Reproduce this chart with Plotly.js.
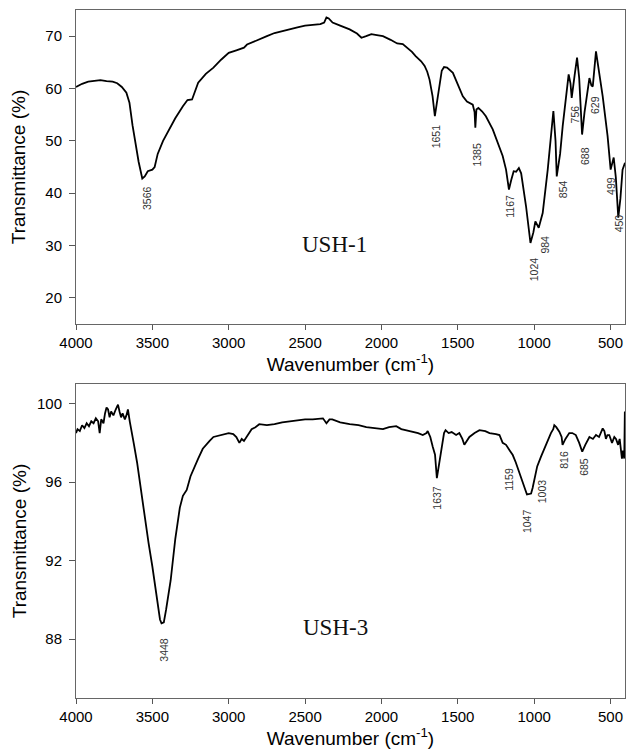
<!DOCTYPE html>
<html>
<head>
<meta charset="utf-8">
<script src="https://cdn.plot.ly/plotly-3.0.1.min.js"></script>
<style>html,body{margin:0;padding:0;background:#fff;}#chart{width:626px;height:749px;}</style>
</head>
<body>
<div id="chart"></div>
<script>
// USH-1 spectrum (wavenumber, transmittance)
var ush1Wn = [4000,3960,3920,3880,3840,3800,3760,3730,3700,3670,3650,3630,3610,3590,3566,3550,3530,3500,3485,3465,3430,3400,3350,3300,3270,3240,3220,3200,3150,3100,3050,3000,2950,2900,2880,2850,2800,2750,2700,2650,2600,2550,2500,2450,2400,2375,2360,2345,2320,2270,2208,2160,2131,2100,2066,2030,1990,1940,1897,1860,1842,1800,1776,1740,1717,1700,1685,1665,1650,1635,1619,1605,1590,1570,1532,1500,1467,1440,1402,1390,1385,1378,1365,1340,1316,1271,1227,1206,1184,1165,1150,1134,1118,1100,1085,1053,1024,1005,992,980,970,944,911,874,860,852,830,813,790,774,762,754,735,719,705,686,670,661,638,625,616,595,575,551,519,499,479,465,449,435,421,405];
var ush1T = [60.3,60.9,61.3,61.5,61.6,61.4,61.3,61.0,60.3,59.2,57.3,53.0,49.0,46.0,42.8,43.2,44.2,44.5,45.0,47.5,50.0,51.6,54.3,56.6,57.8,57.9,59.5,61.1,62.8,64.0,65.5,66.8,67.3,67.8,68.4,68.8,69.4,70.0,70.6,71.0,71.3,71.7,72.0,72.2,72.3,72.6,73.6,73.4,72.6,72.0,71.3,70.5,69.7,70.0,70.4,70.2,70.0,69.3,68.6,68.5,68.1,67.0,66.2,65.2,64.3,63.2,61.7,58.5,54.7,57.5,60.4,63.4,64.1,64.0,63.0,60.8,58.5,57.5,56.9,55.5,52.5,56.0,56.3,55.6,54.7,52.2,49.0,47.1,44.5,40.7,42.5,44.2,44.1,44.8,43.8,37.5,30.5,32.5,34.6,34.0,33.4,36.2,44.5,55.7,50.0,43.2,47.5,52.8,58.5,62.7,61.0,58.2,62.5,65.9,62.0,51.2,55.5,57.3,62.0,60.6,60.4,67.1,63.5,58.5,50.9,44.5,46.8,43.0,35.3,39.0,44.5,45.8];

// USH-3 spectrum
var ush3Wn = [4000,3990,3975,3960,3945,3930,3915,3900,3885,3870,3855,3845,3835,3820,3810,3800,3790,3780,3770,3755,3740,3725,3715,3705,3695,3680,3670,3660,3648,3640,3620,3600,3575,3550,3525,3500,3470,3450,3440,3425,3410,3400,3380,3350,3320,3300,3275,3250,3225,3200,3170,3150,3125,3100,3050,3000,2970,2950,2930,2915,2900,2875,2850,2825,2800,2750,2700,2650,2600,2550,2500,2450,2400,2383,2360,2340,2322,2270,2208,2150,2099,2050,1990,1950,1903,1870,1816,1760,1729,1705,1697,1680,1664,1649,1637,1620,1605,1590,1580,1560,1540,1511,1490,1470,1457,1440,1424,1390,1358,1320,1292,1250,1227,1206,1184,1159,1140,1120,1096,1075,1047,1030,1020,1010,998,980,955,930,911,890,875,868,855,835,820,814,795,770,750,727,705,685,665,638,615,595,575,551,540,530,520,508,490,475,464,450,440,432,425,418,410,406,403];
var ush3T = [98.5,98.7,98.6,98.9,98.75,99.0,98.85,99.1,99.0,99.25,99.1,98.5,99.2,99.0,99.5,99.8,99.7,99.3,99.6,99.4,99.7,99.95,99.6,99.3,99.5,99.2,99.4,99.7,99.1,98.8,97.9,97.0,95.6,94.1,92.9,91.7,90.2,89.0,88.8,88.85,89.5,90.0,91.0,93.1,94.7,95.3,95.6,96.3,96.8,97.2,97.7,97.9,98.1,98.3,98.4,98.5,98.45,98.3,98.0,98.2,98.1,98.4,98.7,98.8,98.95,98.9,98.95,99.05,99.1,99.15,99.2,99.2,99.25,99.25,99.0,99.2,99.2,99.05,98.95,98.9,98.8,98.75,98.7,98.8,98.85,98.7,98.6,98.5,98.4,98.5,98.6,98.3,97.8,97.4,96.2,97.0,97.8,98.5,98.65,98.5,98.55,98.4,98.5,98.2,97.9,98.1,98.3,98.5,98.65,98.6,98.5,98.45,98.4,98.0,97.9,97.6,97.38,97.0,96.44,96.0,95.37,95.4,95.42,95.7,96.1,96.8,97.3,97.8,98.14,98.5,98.7,98.9,98.8,98.57,98.3,97.9,98.2,98.5,98.5,98.4,98.0,97.55,97.9,98.3,98.2,98.4,98.3,98.74,98.6,98.2,98.4,98.4,98.0,98.3,98.2,97.9,98.2,97.6,97.2,97.6,97.2,99.6,99.3];

// Peak labels: [text, x position, y position]
var ush1PeakText = ['3566','1651','1385','1167','1024','984','854','756','688','629','499','450'];
var ush1PeakX = [3531,1641,1373,1155,1003,928,813,734,667,606,493,442];
var ush1PeakY = [39.0,50.9,47.4,37.5,25.4,30.2,40.7,55.0,47.1,56.9,41.3,34.3];

var ush3PeakText = ['3448','1637','1159','1047','1003','816','685'];
var ush3PeakX = [3424,1637,1162,1042,948,802,671];
var ush3PeakY = [87.46,95.2,96.14,94.0,95.54,97.16,96.8];

var sampleNames = ['USH-1','USH-3'];
var sampleX = [2306,2300];
var sampleY = [30.2,88.6];

var top1Ticks = [20,30,40,50,60,70];
var bot3Ticks = [88,92,96,100];
var xTicks = [4000,3500,3000,2500,2000,1500,1000,500];

var lineStyle = {color:'#000', width:1.8};
var traces = [
  {x:ush1Wn, y:ush1T, type:'scatter', mode:'lines', line:lineStyle, xaxis:'x', yaxis:'y', hoverinfo:'skip'},
  {x:ush3Wn, y:ush3T, type:'scatter', mode:'lines', line:lineStyle, xaxis:'x2', yaxis:'y2', hoverinfo:'skip'}
];

var anns = [];
function addPeaks(t, xs, ys, xr, yr){
  for (var i=0;i<t.length;i++){
    anns.push({text:t[i], x:xs[i], y:ys[i], xref:xr, yref:yr, showarrow:false, textangle:-90,
      font:{family:'Liberation Sans, Arial, sans-serif', size:10.5, color:'#333'}});
  }
}
addPeaks(ush1PeakText, ush1PeakX, ush1PeakY, 'x', 'y');
addPeaks(ush3PeakText, ush3PeakX, ush3PeakY, 'x2', 'y2');
anns.push({text:sampleNames[0], x:sampleX[0], y:sampleY[0], xref:'x', yref:'y', showarrow:false,
  font:{family:'Liberation Serif, Times New Roman, serif', size:23, color:'#111'}});
anns.push({text:sampleNames[1], x:sampleX[1], y:sampleY[1], xref:'x2', yref:'y2', showarrow:false,
  font:{family:'Liberation Serif, Times New Roman, serif', size:23, color:'#111'}});

var tickFont = {family:'Liberation Sans, Arial, sans-serif', size:15, color:'#000'};
var titleFont = {family:'Liberation Sans, Arial, sans-serif', size:19, color:'#000'};
function xAxis(anchor){
  return {anchor:anchor, range:[4000,405], tickvals:xTicks, ticks:'outside', ticklen:5, tickcolor:'#555',
    showline:true, linecolor:'#666', linewidth:1, mirror:true, showgrid:false, zeroline:false,
    tickfont:tickFont, title:{text:'Wavenumber (cm<sup>-1</sup>)', font:titleFont, standoff:6}};
}
function yAxis(anchor, dom, rng, tv, so){
  return {anchor:anchor, domain:dom, range:rng, tickvals:tv, ticks:'outside', ticklen:6, tickcolor:'#555',
    showline:true, linecolor:'#666', linewidth:1, mirror:true, showgrid:false, zeroline:false,
    ticklabelstandoff:4, tickfont:tickFont, title:{text:'Transmittance (%)', font:titleFont, standoff:so}};
}

var layout = {
  width:626, height:749, showlegend:false,
  paper_bgcolor:'#fff', plot_bgcolor:'#fff',
  margin:{l:76, r:1, t:10, b:51},
  xaxis: xAxis('y'),
  yaxis: yAxis('x', [0.5436,1], [15,75], top1Ticks, 14),
  xaxis2: xAxis('y2'),
  yaxis2: yAxis('x2', [0,0.4564], [85,101], bot3Ticks, 5),
  annotations: anns
};
Plotly.newPlot('chart', traces, layout, {staticPlot:true, displayModeBar:false});
</script>
</body>
</html>
